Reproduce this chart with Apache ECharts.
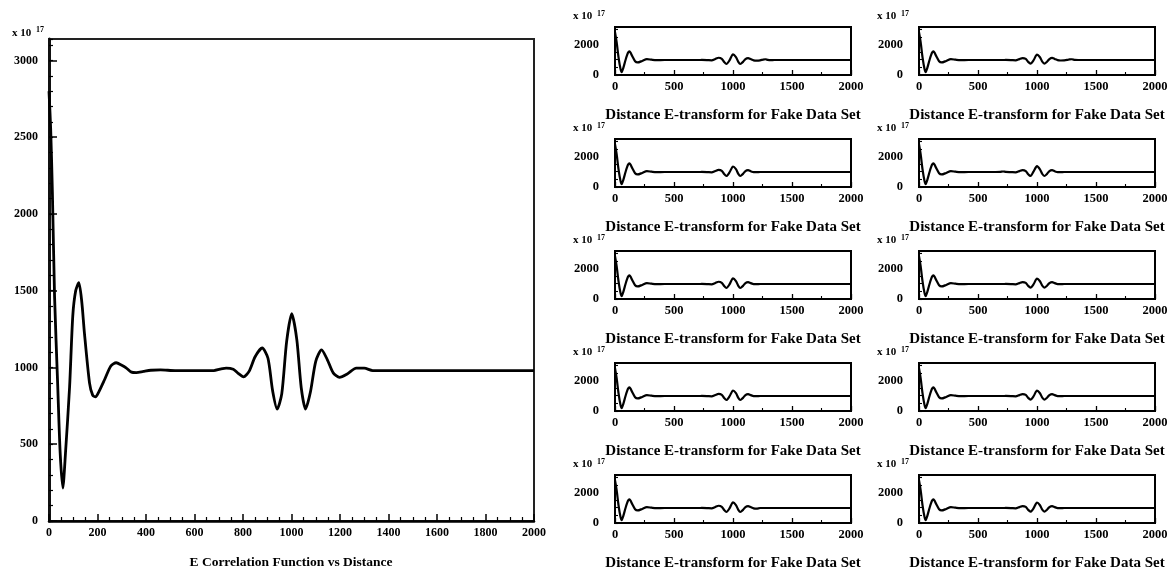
<!DOCTYPE html>
<html>
<head>
<meta charset="utf-8">
<script src="https://cdn.jsdelivr.net/npm/echarts@6/dist/echarts.min.js"></script>
<style>
  html, body { margin: 0; padding: 0; background: #ffffff; }
  #chart { width: 1172px; height: 573px; }
</style>
</head>
<body>
<div id="chart"></div>
<script>
// ---- Texts ----
const mainTitle = 'E Correlation Function vs Distance';
const panelTitle = 'Distance E-transform for Fake Data Set';
const scaleBase = 'x 10';
const scaleExp = '17';

// ---- Main panel: correlation vs distance (values in units of 1e17) ----
const mainDist = [0, 7, 14, 23, 36, 46, 57, 68, 85, 98, 110, 123, 135, 146, 167, 180, 192, 205, 229, 255, 277, 300, 318, 340, 360, 390, 420, 460, 520, 680, 705, 731, 760, 780, 802, 825, 850, 879, 903, 922, 941, 960, 980, 1001, 1022, 1040, 1058, 1078, 1100, 1124, 1148, 1172, 1198, 1230, 1267, 1300, 1335, 2000];
const mainCorr = [2800, 2550, 2140, 1460, 880, 445, 215, 443, 876, 1335, 1500, 1552, 1430, 1226, 900, 820, 809, 840, 920, 1010, 1031, 1015, 998, 970, 967, 975, 982, 984, 980, 980, 989, 996, 988, 962, 939, 975, 1070, 1127, 1060, 850, 729, 830, 1170, 1350, 1180, 870, 729, 840, 1040, 1115, 1050, 965, 936, 958, 996, 996, 980, 980];

// ---- Small panels: E-transform vs distance, shared distance grid ----
const miniDist = [0, 14, 30, 46, 57, 70, 90, 110, 123, 145, 170, 192, 230, 270, 310, 350, 420, 650, 690, 712, 735, 780, 820, 850, 878, 905, 925, 945, 970, 1000, 1025, 1045, 1062, 1085, 1105, 1128, 1150, 1175, 1200, 1230, 1255, 1275, 1295, 1320, 1350, 2000];
const miniA = [2800, 2150, 1150, 420, 180, 450, 1000, 1450, 1540, 1250, 900, 820, 920, 1040, 1000, 970, 980, 980, 980, 980, 985, 975, 960, 1050, 1130, 1060, 850, 720, 950, 1350, 1170, 860, 720, 860, 1040, 1110, 1040, 960, 940, 960, 1010, 1030, 990, 975, 980, 980];
const miniB = [2800, 2150, 1150, 420, 180, 450, 1000, 1450, 1540, 1250, 900, 820, 920, 1040, 1000, 970, 980, 980, 980, 980, 985, 975, 960, 1040, 1110, 1050, 860, 740, 950, 1330, 1160, 870, 740, 870, 1040, 1120, 1050, 970, 950, 960, 985, 1020, 1030, 990, 980, 980];
const miniC = [2800, 2150, 1150, 420, 180, 450, 1000, 1450, 1540, 1250, 900, 820, 920, 1040, 1000, 970, 980, 980, 980, 980, 985, 975, 960, 1050, 1120, 1060, 850, 720, 950, 1340, 1170, 860, 720, 860, 1040, 1100, 1030, 975, 975, 980, 980, 980, 980, 980, 980, 980];
const miniD = [2800, 2150, 1150, 420, 180, 450, 1000, 1450, 1540, 1250, 900, 820, 920, 1040, 1000, 970, 980, 980, 990, 1015, 990, 975, 960, 1040, 1110, 1040, 840, 720, 1000, 1360, 1150, 850, 720, 860, 1040, 1100, 1030, 975, 975, 980, 980, 980, 980, 980, 980, 980];
const miniE = [2800, 2150, 1150, 420, 180, 450, 1000, 1450, 1540, 1250, 900, 820, 920, 1040, 1000, 970, 980, 980, 980, 980, 985, 975, 960, 1050, 1130, 1060, 850, 720, 950, 1350, 1170, 860, 720, 860, 1040, 1110, 1040, 975, 975, 980, 980, 980, 980, 980, 980, 980];
const miniF = [2800, 2150, 1150, 420, 180, 450, 1000, 1450, 1540, 1250, 900, 820, 920, 1040, 1000, 970, 980, 980, 980, 980, 985, 975, 960, 1040, 1110, 1050, 860, 740, 950, 1330, 1160, 870, 740, 870, 1040, 1110, 1040, 975, 975, 980, 980, 980, 980, 980, 980, 980];
const miniG = [2800, 2150, 1150, 420, 180, 450, 1000, 1450, 1540, 1250, 900, 820, 920, 1040, 1000, 970, 980, 980, 980, 980, 985, 975, 960, 1050, 1120, 1060, 850, 720, 950, 1340, 1170, 860, 720, 860, 1040, 1110, 1040, 975, 975, 980, 980, 980, 980, 980, 980, 980];
const miniH = [2800, 2150, 1150, 420, 180, 450, 1000, 1450, 1540, 1250, 900, 820, 920, 1040, 1000, 970, 980, 980, 980, 980, 985, 975, 960, 1040, 1110, 1050, 860, 740, 950, 1330, 1160, 870, 740, 870, 1040, 1110, 1040, 975, 975, 980, 980, 980, 980, 980, 980, 980];
const miniI = [2800, 2150, 1150, 420, 180, 450, 1000, 1450, 1540, 1250, 900, 820, 920, 1040, 1000, 970, 980, 980, 980, 980, 985, 975, 960, 1050, 1130, 1060, 850, 720, 950, 1350, 1170, 860, 720, 860, 1040, 1110, 1040, 960, 940, 980, 980, 980, 980, 980, 980, 980];
const miniJ = [2800, 2150, 1150, 420, 180, 450, 1000, 1450, 1540, 1250, 900, 820, 920, 1040, 1000, 970, 980, 980, 980, 980, 985, 975, 960, 1040, 1110, 1050, 860, 740, 950, 1340, 1160, 870, 740, 870, 1040, 1110, 1040, 975, 975, 980, 980, 980, 980, 980, 980, 980];
const miniPanels = [miniA, miniB, miniC, miniD, miniE, miniF, miniG, miniH, miniI, miniJ];

// ---- Axis ranges ----
const yMax = 3140;
const xMax = 2000;

// ---- Styling ----
const FONT = '"Liberation Serif", "DejaVu Serif", serif';
const INK = '#000000';

function pairs(xs, ys) {
  return xs.map((x, i) => [x, ys[i]]);
}

const plain = (v) => String(v);

const grids = [];
const xAxes = [];
const yAxes = [];
const series = [];
const graphics = [];

const tickLabel = (size) => ({
  color: INK, fontFamily: FONT, fontWeight: 'bold', fontSize: size
});

// Main panel
const mainBox = { left: 49, top: 39, width: 485, height: 482 };
grids.push(Object.assign({ show: true, borderColor: '#222', borderWidth: 2, backgroundColor: '#fff' }, mainBox));
xAxes.push({
  gridIndex: 0, type: 'value', min: 0, max: xMax, interval: 200,
  axisLine: { show: true, onZero: false, lineStyle: { color: INK, width: 2.5 } },
  axisTick: { show: true, inside: true, length: 7, lineStyle: { color: INK, width: 1.5 } },
  minorTick: { show: true, splitNumber: 4, length: 4, lineStyle: { color: INK, width: 1.2 } },
  axisLabel: Object.assign({ margin: 6, formatter: plain }, tickLabel(12)),
  splitLine: { show: false }
});
yAxes.push({
  gridIndex: 0, type: 'value', min: 0, max: yMax, interval: 500, position: 'left',
  axisLine: { show: true, onZero: false, lineStyle: { color: '#111', width: 3 } },
  axisTick: { show: true, inside: true, length: 8, lineStyle: { color: INK, width: 1.5 } },
  axisLabel: Object.assign({ margin: 11, showMaxLabel: false, formatter: plain }, tickLabel(12)),
  splitLine: { show: false }
});
// fine ticks every 100 on the same left edge
yAxes.push({
  gridIndex: 0, type: 'value', min: 0, max: yMax, interval: 100, position: 'left',
  axisLine: { show: false },
  axisTick: { show: true, inside: true, length: 4, lineStyle: { color: INK, width: 1.2 } },
  axisLabel: { show: false },
  splitLine: { show: false }
});
series.push({
  type: 'line', xAxisIndex: 0, yAxisIndex: 0,
  data: pairs(mainDist, mainCorr),
  smooth: 0.25, showSymbol: false, symbol: 'none',
  lineStyle: { color: INK, width: 2.8 }
});
graphics.push({ type: 'text', x: 12, y: 33, style: { text: scaleBase, font: 'bold 11px ' + FONT, fill: INK, verticalAlign: 'middle' } });
graphics.push({ type: 'text', x: 36, y: 30, style: { text: scaleExp, font: 'bold 8px ' + FONT, fill: INK, verticalAlign: 'middle' } });
graphics.push({ type: 'text', x: 291, y: 563, style: { text: mainTitle, font: 'bold 13.5px ' + FONT, fill: INK, align: 'center', verticalAlign: 'middle' } });

// Small panels: two columns, five rows
const colLeft = [615, 919];
const panelW = 236;
const panelH = 48;
const rowTop0 = 27;
const rowStep = 112;

miniPanels.forEach((vals, k) => {
  const row = Math.floor(k / 2);
  const col = k % 2;
  const left = colLeft[col];
  const top = rowTop0 + row * rowStep;
  const g = grids.length;
  grids.push({ show: true, left: left, top: top, width: panelW, height: panelH, borderColor: INK, borderWidth: 2, backgroundColor: '#fff' });
  xAxes.push({
    gridIndex: g, type: 'value', min: 0, max: xMax, interval: 500,
    axisLine: { show: true, onZero: false, lineStyle: { color: INK, width: 2 } },
    axisTick: { show: true, inside: true, length: 5, lineStyle: { color: INK, width: 1.3 } },
    minorTick: { show: true, splitNumber: 2, length: 3, lineStyle: { color: INK, width: 1.1 } },
    axisLabel: Object.assign({ margin: 5, formatter: plain }, tickLabel(12.5)),
    splitLine: { show: false }
  });
  const yi = yAxes.length;
  yAxes.push({
    gridIndex: g, type: 'value', min: 0, max: yMax, interval: 500, position: 'left',
    axisLine: { show: true, onZero: false, lineStyle: { color: INK, width: 2 } },
    axisTick: { show: true, inside: true, length: 3, lineStyle: { color: INK, width: 1.1 } },
    axisLabel: Object.assign({
      margin: 16,
      formatter: (v) => (v === 0 || v === 2000) ? String(v) : ''
    }, tickLabel(12.5)),
    splitLine: { show: false }
  });
  series.push({
    type: 'line', xAxisIndex: g, yAxisIndex: yi,
    data: pairs(miniDist, vals),
    smooth: 0.25, showSymbol: false, symbol: 'none',
    lineStyle: { color: INK, width: 2.2 }
  });
  const sx = left - 42;
  graphics.push({ type: 'text', x: sx, y: top - 11, style: { text: scaleBase, font: 'bold 11px ' + FONT, fill: INK, verticalAlign: 'middle' } });
  graphics.push({ type: 'text', x: sx + 24, y: top - 13, style: { text: scaleExp, font: 'bold 8px ' + FONT, fill: INK, verticalAlign: 'middle' } });
  graphics.push({ type: 'text', x: left + panelW / 2, y: top + 88, style: { text: panelTitle, font: 'bold 15px ' + FONT, fill: INK, align: 'center', verticalAlign: 'middle' } });
});

const chart = echarts.init(document.getElementById('chart'), null, { renderer: 'canvas' });
chart.setOption({
  backgroundColor: '#ffffff',
  animation: false,
  grid: grids,
  xAxis: xAxes,
  yAxis: yAxes,
  series: series,
  graphic: graphics
});
</script>
</body>
</html>
